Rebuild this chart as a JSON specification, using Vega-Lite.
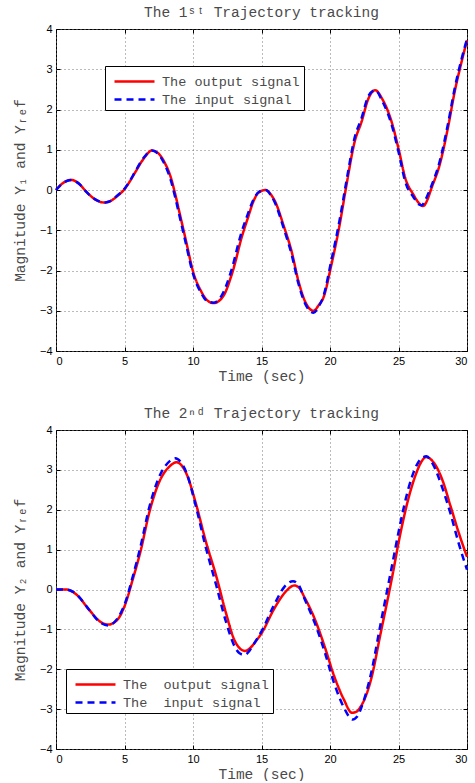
{
  "$schema": "https://vega.github.io/schema/vega-lite/v6.json",
  "padding": {"left": 11, "top": 4, "right": 0, "bottom": 0},
  "spacing": 22,
  "background": "white",
  "config": {
    "view": {"stroke": "#000", "strokeWidth": 1},
    "axis": {
      "labelFont": "Liberation Sans",
      "labelFontSize": 11,
      "labelColor": "#000",
      "titleFont": "'Liberation Mono', 'Courier New', Courier, monospace",
      "titleFontSize": 14.5,
      "titleFontWeight": "normal",
      "titleColor": "#4a4a4a",
      "domain": false,
      "grid": true,
      "gridColor": "#777",
      "gridDash": [1, 3],
      "gridOpacity": 1,
      "tickColor": "#000",
      "tickSize": -4,
      "labelPadding": 8
    },
    "title": {"font": "'Liberation Mono', 'Courier New', Courier, monospace", "fontSize": 14.5, "fontWeight": "normal", "color": "#4a4a4a", "frame": "group", "anchor": "middle", "offset": 3},
    "legend": {
      "orient": "none",
      "title": null,
      "strokeColor": "#000",
      "fillColor": "#fff",
      "padding": 4,
      "labelFont": "'Liberation Mono', 'Courier New', Courier, monospace",
      "labelFontSize": 13.5,
      "labelColor": "#4a4a4a",
      "symbolType": "M-2,0H2",
      "symbolSize": 400,
      "symbolStrokeWidth": 2.5,
      "symbolOffset": 14,
      "rowPadding": 0,
      "labelOffset": 16
    }
  },
  "datasets": {
    "y1": [
      {"t": 0, "y": 0, "s": "out"}, {"t": 0.5, "y": 0.17, "s": "out"}, {"t": 1.1, "y": 0.25, "s": "out"}, {"t": 1.7, "y": 0.15, "s": "out"},
      {"t": 2.2, "y": -0.04, "s": "out"}, {"t": 2.8, "y": -0.22, "s": "out"}, {"t": 3.5, "y": -0.31, "s": "out"}, {"t": 4.0, "y": -0.27, "s": "out"},
      {"t": 4.4, "y": -0.17, "s": "out"}, {"t": 5.0, "y": 0.02, "s": "out"}, {"t": 5.4, "y": 0.22, "s": "out"}, {"t": 5.8, "y": 0.45, "s": "out"},
      {"t": 6.4, "y": 0.78, "s": "out"}, {"t": 7.0, "y": 0.98, "s": "out"}, {"t": 7.5, "y": 0.9, "s": "out"}, {"t": 7.9, "y": 0.7, "s": "out"},
      {"t": 8.4, "y": 0.29, "s": "out"}, {"t": 8.7, "y": -0.1, "s": "out"}, {"t": 9.0, "y": -0.54, "s": "out"}, {"t": 9.5, "y": -1.28, "s": "out"},
      {"t": 10.0, "y": -2.02, "s": "out"}, {"t": 10.6, "y": -2.52, "s": "out"}, {"t": 11.0, "y": -2.73, "s": "out"}, {"t": 11.5, "y": -2.81, "s": "out"},
      {"t": 12.2, "y": -2.64, "s": "out"}, {"t": 12.9, "y": -2.02, "s": "out"}, {"t": 13.6, "y": -1.12, "s": "out"}, {"t": 14.0, "y": -0.7, "s": "out"},
      {"t": 14.4, "y": -0.29, "s": "out"}, {"t": 14.8, "y": -0.06, "s": "out"}, {"t": 15.3, "y": 0.0, "s": "out"}, {"t": 15.7, "y": -0.12, "s": "out"},
      {"t": 16.0, "y": -0.29, "s": "out"}, {"t": 16.6, "y": -0.87, "s": "out"}, {"t": 17.2, "y": -1.53, "s": "out"}, {"t": 17.7, "y": -2.27, "s": "out"},
      {"t": 18.3, "y": -2.85, "s": "out"}, {"t": 18.8, "y": -3.0, "s": "out"}, {"t": 19.2, "y": -2.85, "s": "out"}, {"t": 19.5, "y": -2.69, "s": "out"},
      {"t": 20.1, "y": -1.86, "s": "out"}, {"t": 20.7, "y": -0.87, "s": "out"}, {"t": 21.2, "y": 0.12, "s": "out"}, {"t": 21.8, "y": 1.2, "s": "out"},
      {"t": 22.3, "y": 1.69, "s": "out"}, {"t": 22.8, "y": 2.27, "s": "out"}, {"t": 23.3, "y": 2.48, "s": "out"}, {"t": 23.8, "y": 2.27, "s": "out"},
      {"t": 24.5, "y": 1.69, "s": "out"}, {"t": 25.0, "y": 1.03, "s": "out"}, {"t": 25.5, "y": 0.29, "s": "out"}, {"t": 26.1, "y": -0.12, "s": "out"},
      {"t": 26.5, "y": -0.33, "s": "out"}, {"t": 26.8, "y": -0.4, "s": "out"}, {"t": 27.1, "y": -0.25, "s": "out"}, {"t": 27.4, "y": 0.04, "s": "out"},
      {"t": 28.0, "y": 0.62, "s": "out"}, {"t": 28.6, "y": 1.53, "s": "out"}, {"t": 29.1, "y": 2.44, "s": "out"}, {"t": 29.6, "y": 3.18, "s": "out"},
      {"t": 30.0, "y": 3.72, "s": "out"},
      {"t": 0, "y": 0, "s": "inp"}, {"t": 0.5, "y": 0.17, "s": "inp"}, {"t": 1.1, "y": 0.25, "s": "inp"}, {"t": 1.7, "y": 0.15, "s": "inp"},
      {"t": 2.2, "y": -0.04, "s": "inp"}, {"t": 2.8, "y": -0.22, "s": "inp"}, {"t": 3.6, "y": -0.31, "s": "inp"}, {"t": 4.0, "y": -0.27, "s": "inp"},
      {"t": 4.4, "y": -0.16, "s": "inp"}, {"t": 5.0, "y": 0.03, "s": "inp"}, {"t": 5.4, "y": 0.23, "s": "inp"}, {"t": 5.8, "y": 0.47, "s": "inp"},
      {"t": 6.4, "y": 0.8, "s": "inp"}, {"t": 7.0, "y": 0.98, "s": "inp"}, {"t": 7.5, "y": 0.88, "s": "inp"}, {"t": 7.9, "y": 0.66, "s": "inp"},
      {"t": 8.4, "y": 0.22, "s": "inp"}, {"t": 8.7, "y": -0.18, "s": "inp"}, {"t": 9.0, "y": -0.62, "s": "inp"}, {"t": 9.5, "y": -1.36, "s": "inp"},
      {"t": 10.0, "y": -2.08, "s": "inp"}, {"t": 10.6, "y": -2.56, "s": "inp"}, {"t": 11.0, "y": -2.75, "s": "inp"}, {"t": 11.5, "y": -2.8, "s": "inp"},
      {"t": 12.1, "y": -2.62, "s": "inp"}, {"t": 12.8, "y": -2.0, "s": "inp"}, {"t": 13.5, "y": -1.1, "s": "inp"}, {"t": 14.0, "y": -0.6, "s": "inp"},
      {"t": 14.4, "y": -0.25, "s": "inp"}, {"t": 14.8, "y": -0.05, "s": "inp"}, {"t": 15.3, "y": 0.0, "s": "inp"}, {"t": 15.7, "y": -0.14, "s": "inp"},
      {"t": 16.0, "y": -0.33, "s": "inp"}, {"t": 16.6, "y": -0.93, "s": "inp"}, {"t": 17.2, "y": -1.6, "s": "inp"}, {"t": 17.7, "y": -2.33, "s": "inp"},
      {"t": 18.3, "y": -2.9, "s": "inp"}, {"t": 18.8, "y": -3.05, "s": "inp"}, {"t": 19.2, "y": -2.88, "s": "inp"}, {"t": 19.5, "y": -2.66, "s": "inp"},
      {"t": 20.1, "y": -1.75, "s": "inp"}, {"t": 20.7, "y": -0.75, "s": "inp"}, {"t": 21.2, "y": 0.22, "s": "inp"}, {"t": 21.8, "y": 1.3, "s": "inp"},
      {"t": 22.3, "y": 1.78, "s": "inp"}, {"t": 22.8, "y": 2.33, "s": "inp"}, {"t": 23.3, "y": 2.48, "s": "inp"}, {"t": 23.8, "y": 2.22, "s": "inp"},
      {"t": 24.5, "y": 1.62, "s": "inp"}, {"t": 25.0, "y": 0.95, "s": "inp"}, {"t": 25.5, "y": 0.2, "s": "inp"}, {"t": 26.1, "y": -0.18, "s": "inp"},
      {"t": 26.5, "y": -0.36, "s": "inp"}, {"t": 26.7, "y": -0.38, "s": "inp"}, {"t": 27.0, "y": -0.22, "s": "inp"}, {"t": 27.4, "y": 0.1, "s": "inp"},
      {"t": 28.0, "y": 0.7, "s": "inp"}, {"t": 28.6, "y": 1.62, "s": "inp"}, {"t": 29.1, "y": 2.52, "s": "inp"}, {"t": 29.6, "y": 3.25, "s": "inp"},
      {"t": 30.0, "y": 3.75, "s": "inp"}
    ],
    "y2": [
      {"t": 0, "y": 0, "s": "out"}, {"t": 0.7, "y": 0, "s": "out"}, {"t": 1.5, "y": -0.13, "s": "out"}, {"t": 2.4, "y": -0.5, "s": "out"},
      {"t": 3.2, "y": -0.8, "s": "out"}, {"t": 3.8, "y": -0.88, "s": "out"}, {"t": 4.5, "y": -0.75, "s": "out"}, {"t": 5.0, "y": -0.42, "s": "out"},
      {"t": 5.6, "y": 0.25, "s": "out"}, {"t": 6.2, "y": 1.0, "s": "out"}, {"t": 6.8, "y": 1.92, "s": "out"}, {"t": 7.5, "y": 2.67, "s": "out"},
      {"t": 8.3, "y": 3.09, "s": "out"}, {"t": 8.8, "y": 3.19, "s": "out"}, {"t": 9.5, "y": 2.92, "s": "out"}, {"t": 10.2, "y": 2.17, "s": "out"},
      {"t": 10.9, "y": 1.25, "s": "out"}, {"t": 11.7, "y": 0.33, "s": "out"}, {"t": 12.4, "y": -0.58, "s": "out"}, {"t": 13.0, "y": -1.25, "s": "out"},
      {"t": 13.4, "y": -1.47, "s": "out"}, {"t": 13.8, "y": -1.54, "s": "out"}, {"t": 14.2, "y": -1.46, "s": "out"}, {"t": 14.6, "y": -1.29, "s": "out"},
      {"t": 15.0, "y": -1.1, "s": "out"}, {"t": 15.9, "y": -0.5, "s": "out"}, {"t": 16.7, "y": -0.08, "s": "out"}, {"t": 17.4, "y": 0.1, "s": "out"},
      {"t": 17.8, "y": 0.02, "s": "out"}, {"t": 18.1, "y": -0.17, "s": "out"}, {"t": 18.9, "y": -0.75, "s": "out"}, {"t": 19.6, "y": -1.42, "s": "out"},
      {"t": 20.3, "y": -2.17, "s": "out"}, {"t": 21.0, "y": -2.75, "s": "out"}, {"t": 21.6, "y": -3.09, "s": "out"}, {"t": 21.9, "y": -3.07, "s": "out"},
      {"t": 22.2, "y": -2.96, "s": "out"}, {"t": 23.0, "y": -2.25, "s": "out"}, {"t": 23.7, "y": -1.09, "s": "out"}, {"t": 24.5, "y": 0.25, "s": "out"},
      {"t": 25.1, "y": 1.34, "s": "out"}, {"t": 25.7, "y": 2.25, "s": "out"}, {"t": 26.3, "y": 2.92, "s": "out"}, {"t": 26.7, "y": 3.22, "s": "out"},
      {"t": 27.0, "y": 3.32, "s": "out"}, {"t": 27.6, "y": 3.17, "s": "out"}, {"t": 28.2, "y": 2.75, "s": "out"}, {"t": 28.8, "y": 2.09, "s": "out"},
      {"t": 29.4, "y": 1.42, "s": "out"}, {"t": 30.0, "y": 0.82, "s": "out"},
      {"t": 0, "y": 0, "s": "inp"}, {"t": 0.7, "y": 0, "s": "inp"}, {"t": 1.5, "y": -0.12, "s": "inp"}, {"t": 2.4, "y": -0.5, "s": "inp"},
      {"t": 3.2, "y": -0.82, "s": "inp"}, {"t": 3.8, "y": -0.9, "s": "inp"}, {"t": 4.5, "y": -0.72, "s": "inp"}, {"t": 5.0, "y": -0.38, "s": "inp"},
      {"t": 5.6, "y": 0.32, "s": "inp"}, {"t": 6.2, "y": 1.12, "s": "inp"}, {"t": 6.8, "y": 2.05, "s": "inp"}, {"t": 7.5, "y": 2.8, "s": "inp"},
      {"t": 8.3, "y": 3.22, "s": "inp"}, {"t": 8.7, "y": 3.29, "s": "inp"}, {"t": 9.2, "y": 3.15, "s": "inp"}, {"t": 9.5, "y": 2.95, "s": "inp"},
      {"t": 10.2, "y": 2.1, "s": "inp"}, {"t": 10.9, "y": 1.1, "s": "inp"}, {"t": 11.7, "y": 0.1, "s": "inp"}, {"t": 12.4, "y": -0.8, "s": "inp"},
      {"t": 13.0, "y": -1.4, "s": "inp"}, {"t": 13.4, "y": -1.6, "s": "inp"}, {"t": 13.75, "y": -1.64, "s": "inp"}, {"t": 14.2, "y": -1.5, "s": "inp"},
      {"t": 14.6, "y": -1.28, "s": "inp"}, {"t": 15.0, "y": -1.05, "s": "inp"}, {"t": 15.9, "y": -0.4, "s": "inp"}, {"t": 16.7, "y": 0.08, "s": "inp"},
      {"t": 17.3, "y": 0.21, "s": "inp"}, {"t": 17.7, "y": 0.12, "s": "inp"}, {"t": 18.1, "y": -0.2, "s": "inp"}, {"t": 18.9, "y": -0.85, "s": "inp"},
      {"t": 19.6, "y": -1.55, "s": "inp"}, {"t": 20.3, "y": -2.35, "s": "inp"}, {"t": 21.0, "y": -2.95, "s": "inp"}, {"t": 21.65, "y": -3.26, "s": "inp"},
      {"t": 22.0, "y": -3.18, "s": "inp"}, {"t": 22.3, "y": -2.95, "s": "inp"}, {"t": 23.0, "y": -2.1, "s": "inp"}, {"t": 23.7, "y": -0.85, "s": "inp"},
      {"t": 24.5, "y": 0.55, "s": "inp"}, {"t": 25.1, "y": 1.6, "s": "inp"}, {"t": 25.7, "y": 2.5, "s": "inp"}, {"t": 26.3, "y": 3.1, "s": "inp"},
      {"t": 26.7, "y": 3.3, "s": "inp"}, {"t": 27.05, "y": 3.34, "s": "inp"}, {"t": 27.5, "y": 3.15, "s": "inp"}, {"t": 28.2, "y": 2.55, "s": "inp"},
      {"t": 28.8, "y": 1.9, "s": "inp"}, {"t": 29.4, "y": 1.15, "s": "inp"}, {"t": 30.0, "y": 0.5, "s": "inp"}
    ]
  },
  "vconcat": [
    {
      "width": 411,
      "height": 322,
      "title": {"text": "The 1ˢᵗ Trajectory tracking"},
      "data": {"name": "y1"},
      "encoding": {
        "color": {"field": "s", "type": "nominal", "scale": {"domain": ["out", "inp"], "range": ["#ff0000", "#0000ff"]}, "legend": {"legendX": 49, "legendY": 37, "labelExpr": "datum.value == 'out' ? 'The output signal' : 'The input signal'"}},
        "strokeDash": {"field": "s", "type": "nominal", "scale": {"domain": ["out", "inp"], "range": [[1, 0], [7, 5]]}, "legend": {"legendX": 49, "legendY": 37, "labelExpr": "datum.value == 'out' ? 'The output signal' : 'The input signal'"}}
      },
      "layer": [
        {"transform": [{"filter": "datum.s == 'out'"}], "mark": {"type": "line", "strokeWidth": 2.5, "interpolate": "monotone"},
         "encoding": {
           "x": {"field": "t", "type": "quantitative", "scale": {"domain": [0, 30], "nice": false}, "axis": {"orient": "bottom", "values": [0, 5, 10, 15, 20, 25, 30], "title": "Time (sec)", "titlePadding": 3}},
           "y": {"field": "y", "type": "quantitative", "scale": {"domain": [-4, 4], "nice": false}, "axis": {"orient": "left", "values": [-4, -3, -2, -1, 0, 1, 2, 3, 4], "title": "Magnitude Y₁ and Yᵣₑf", "titlePadding": 12}}
         }},
        {"transform": [{"filter": "datum.s == 'inp'"}], "mark": {"type": "line", "strokeWidth": 2.5, "interpolate": "monotone"},
         "encoding": {
           "x": {"field": "t", "type": "quantitative", "axis": null},
           "y": {"field": "y", "type": "quantitative", "axis": null}
         }},
        {"transform": [{"filter": "datum.s == 'inp'"}], "mark": {"type": "line", "opacity": 0},
         "encoding": {
           "x": {"field": "t", "type": "quantitative", "axis": {"orient": "top", "values": [0, 5, 10, 15, 20, 25, 30], "labels": false, "title": null, "grid": false}},
           "y": {"field": "y", "type": "quantitative", "axis": {"orient": "right", "values": [-4, -3, -2, -1, 0, 1, 2, 3, 4], "labels": false, "title": null, "grid": false}}
         }}
      ],
      "resolve": {"axis": {"x": "independent", "y": "independent"}}
    },
    {
      "width": 411,
      "height": 319,
      "title": {"text": "The 2ⁿᵈ Trajectory tracking"},
      "data": {"name": "y2"},
      "encoding": {
        "color": {"field": "s", "type": "nominal", "scale": {"domain": ["out", "inp"], "range": ["#ff0000", "#0000ff"]}, "legend": {"legendX": 10, "legendY": 239, "labelExpr": "datum.value == 'out' ? 'The\u00a0 output signal' : 'The\u00a0 input signal'"}},
        "strokeDash": {"field": "s", "type": "nominal", "scale": {"domain": ["out", "inp"], "range": [[1, 0], [7, 5]]}, "legend": {"legendX": 10, "legendY": 239, "labelExpr": "datum.value == 'out' ? 'The\u00a0 output signal' : 'The\u00a0 input signal'"}}
      },
      "layer": [
        {"transform": [{"filter": "datum.s == 'out'"}], "mark": {"type": "line", "strokeWidth": 2.5, "interpolate": "monotone"},
         "encoding": {
           "x": {"field": "t", "type": "quantitative", "scale": {"domain": [0, 30], "nice": false}, "axis": {"orient": "bottom", "values": [0, 5, 10, 15, 20, 25, 30], "title": "Time (sec)", "titlePadding": 3}},
           "y": {"field": "y", "type": "quantitative", "scale": {"domain": [-4, 4], "nice": false}, "axis": {"orient": "left", "values": [-4, -3, -2, -1, 0, 1, 2, 3, 4], "title": "Magnitude Y₂ and Yᵣₑf", "titlePadding": 12}}
         }},
        {"transform": [{"filter": "datum.s == 'inp'"}], "mark": {"type": "line", "strokeWidth": 2.5, "interpolate": "monotone"},
         "encoding": {
           "x": {"field": "t", "type": "quantitative", "axis": null},
           "y": {"field": "y", "type": "quantitative", "axis": null}
         }},
        {"transform": [{"filter": "datum.s == 'inp'"}], "mark": {"type": "line", "opacity": 0},
         "encoding": {
           "x": {"field": "t", "type": "quantitative", "axis": {"orient": "top", "values": [0, 5, 10, 15, 20, 25, 30], "labels": false, "title": null, "grid": false}},
           "y": {"field": "y", "type": "quantitative", "axis": {"orient": "right", "values": [-4, -3, -2, -1, 0, 1, 2, 3, 4], "labels": false, "title": null, "grid": false}}
         }}
      ],
      "resolve": {"axis": {"x": "independent", "y": "independent"}}
    }
  ],
  "resolve": {"scale": {"color": "independent", "strokeDash": "independent"}, "legend": {"color": "independent", "strokeDash": "independent"}}
}
